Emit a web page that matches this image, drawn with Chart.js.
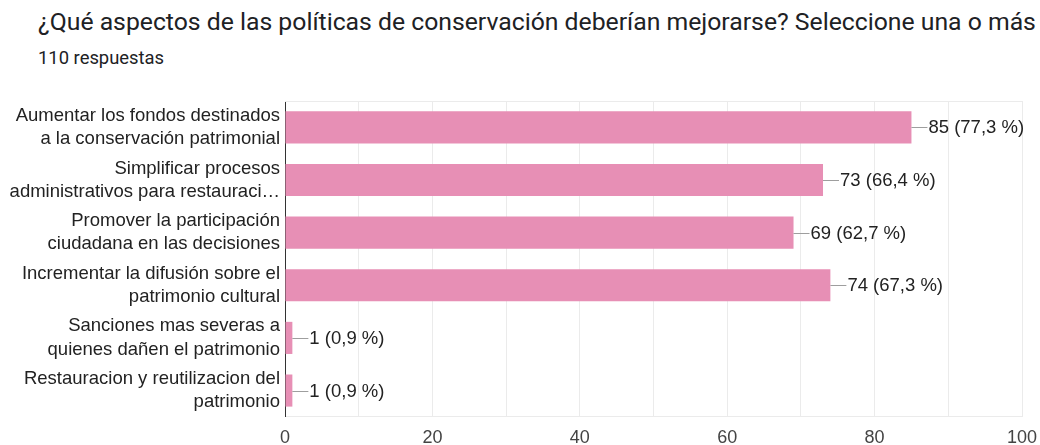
<!DOCTYPE html>
<html><head><meta charset="utf-8">
<script src="https://cdn.jsdelivr.net/npm/chart.js@4.4.1/dist/chart.umd.min.js"></script>
<style>
html,body{margin:0;padding:0;background:#fff;}
#wrap{position:relative;width:1040px;height:445px;overflow:hidden;}
#title{position:absolute;left:38px;top:7px;font-family:Roboto,sans-serif;font-size:24.75px;color:#202124;white-space:nowrap;}
#sub{position:absolute;left:38px;top:47px;font-family:Roboto,sans-serif;font-size:18.4px;color:#202124;white-space:nowrap;}
canvas{position:absolute;left:0;top:0;}
</style></head>
<body><div id="wrap">
<div id="title">¿Qué aspectos de las políticas de conservación deberían mejorarse? Seleccione una o más</div>
<div id="sub">110 respuestas</div>
<canvas id="c" width="1040" height="445"></canvas>
</div>
<script>
const categories = [
  ["Aumentar los fondos destinados","a la conservación patrimonial"],
  ["Simplificar procesos","administrativos para restauraci…"],
  ["Promover la participación","ciudadana en las decisiones"],
  ["Incrementar la difusión sobre el","patrimonio cultural"],
  ["Sanciones mas severas a","quienes dañen el patrimonio"],
  ["Restauracion y reutilizacion del","patrimonio"]
];
const counts = [85, 73, 69, 74, 1, 1];
const percents = ["77,3", "66,4", "62,7", "67,3", "0,9", "0,9"];
const xTicks = [0, 20, 40, 60, 80, 100];

const FONT = '"Liberation Sans", Arial, sans-serif';

const labelPlugin = {
  id: 'valueLabels',
  afterDatasetsDraw(chart) {
    const ctx = chart.ctx;
    const meta = chart.getDatasetMeta(0);
    ctx.save();
    ctx.font = '18.5px ' + FONT;
    ctx.textBaseline = 'middle';
    ctx.textAlign = 'left';
    meta.data.forEach((bar, i) => {
      const x = bar.x, y = bar.y;
      ctx.strokeStyle = '#9e9e9e';
      ctx.lineWidth = 1;
      ctx.beginPath();
      ctx.moveTo(x, Math.round(y) + 0.5);
      ctx.lineTo(x + 16, Math.round(y) + 0.5);
      ctx.stroke();
      ctx.fillStyle = '#222222';
      ctx.fillText(counts[i] + ' (' + percents[i] + ' %)', x + 17, y + 1);
    });
    ctx.restore();
  },
  beforeDatasetsDraw(chart) {
    const {ctx, chartArea: a} = chart;
    ctx.save();
    ctx.strokeStyle = '#ebebeb';
    ctx.lineWidth = 1;
    ctx.beginPath();
    ctx.moveTo(a.left, Math.round(a.top) + 0.5);
    ctx.lineTo(a.right, Math.round(a.top) + 0.5);
    ctx.stroke();
    ctx.restore();
  }
};

new Chart(document.getElementById('c'), {
  type: 'bar',
  data: {
    labels: categories,
    datasets: [{
      data: counts,
      backgroundColor: '#e78fb5',
      borderWidth: 0,
      categoryPercentage: 1,
      barPercentage: 0.61
    }]
  },
  options: {
    indexAxis: 'y',
    responsive: false,
    animation: false,
    layout: { padding: { top: 101, right: 18, left: 0, bottom: 0 } },
    plugins: { legend: { display: false }, tooltip: { enabled: false } },
    scales: {
      x: {
        min: 0, max: 100,
        ticks: {
          stepSize: 10,
          autoSkip: false,
          maxRotation: 0,
          color: '#444444',
          font: { family: FONT, size: 18 },
          padding: 10,
          callback: v => xTicks.includes(v) ? String(v) : ''
        },
        grid: { color: '#ebebeb', drawTicks: false },
        border: { color: '#ebebeb' },
        afterFit(s) { s.height = 28; s.paddingLeft = 0; s.paddingRight = 0; }
      },
      y: {
        ticks: {
          color: '#222222',
          font: { family: FONT, size: 18.5, lineHeight: 1.25 },
          padding: 5,
          autoSkip: false
        },
        grid: { display: false, drawTicks: false, tickLength: 0 },
        border: { color: '#333333', width: 1 },
        afterFit(s) { s.width = 285; }
      }
    }
  },
  plugins: [labelPlugin]
});
</script>
</body></html>
